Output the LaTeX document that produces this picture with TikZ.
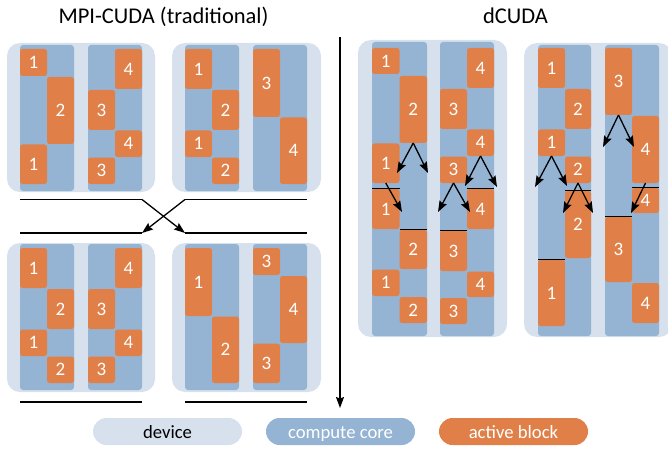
\documentclass[tikz,border=0pt]{standalone}
\usepackage{fontspec}
\setmainfont{Carlito}
\usetikzlibrary{arrows.meta}
\definecolor{devc}{RGB}{214,225,237}
\definecolor{corec}{RGB}{149,180,211}
\definecolor{blkc}{RGB}{224,128,72}
\tikzset{
  dev/.style={fill=devc, rounded corners=13pt, inner sep=0pt, outer sep=0pt},
  core/.style={fill=corec, rounded corners=3pt, inner sep=0pt, outer sep=0pt},
  blk/.style={fill=blkc, rounded corners=2.5pt, inner sep=0pt, outer sep=0pt, text=white, font=\fontsize{19}{19}\selectfont},
  sepline/.style={line width=1.3pt, draw=black},
  arr/.style={line width=1.3pt, draw=black, -{Stealth[length=11pt,width=8pt,inset=1.5pt]}},
  title/.style={anchor=base, inner sep=0pt, font=\fontsize{22.5}{26}\selectfont},
  legend/.style={rounded corners=13.5pt, minimum width=149pt, minimum height=27pt, inner sep=0pt, text height=14pt, text depth=0pt, font=\fontsize{18.7}{20}\selectfont},
}
\newcommand\rbox[7]{\node[#1, minimum width={(#5)-(#3)}, minimum height={(#6)-(#4)}] (#2) at ({((#3)+(#5))/2},{((#4)+(#6))/2}) {#7};}
\begin{document}
\begin{tikzpicture}[x=1pt,y=-1pt]
\useasboundingbox (0,0) rectangle (668,449);
% titles
\node[title] (t1) at (163.5,24) {MPI-CUDA (traditional)};
\node[title] (t2) at (515.5,24) {dCUDA};
% ---------- device A (top left)
\rbox{dev}{devA}{7}{43}{155}{192}{}
\rbox{core}{coreA1}{20}{45}{74}{191}{}
\rbox{core}{coreA2}{88}{45}{142}{191}{}
\rbox{blk}{a1}{20}{49}{47}{76}{1}
\rbox{blk}{a2}{47}{77}{74}{144}{2}
\rbox{blk}{a3}{20}{144.5}{47}{184}{1}
\rbox{blk}{a4}{115}{49}{142}{89}{4}
\rbox{blk}{a5}{88}{90}{115}{130}{3}
\rbox{blk}{a6}{115}{130.5}{142}{157}{4}
\rbox{blk}{a7}{88}{157.5}{115}{184}{3}
% ---------- device B (top right)
\rbox{dev}{devB}{172}{43}{321}{192}{}
\rbox{core}{coreB1}{185}{45}{239}{191}{}
\rbox{core}{coreB2}{253}{45}{307}{191}{}
\rbox{blk}{b1}{185}{49}{212}{89}{1}
\rbox{blk}{b2}{212}{90}{239}{130}{2}
\rbox{blk}{b3}{185}{130.5}{212}{157}{1}
\rbox{blk}{b4}{212}{157.5}{239}{184}{2}
\rbox{blk}{b5}{253}{49}{280}{117}{3}
\rbox{blk}{b6}{280}{117.5}{307}{184}{4}
% ---------- device C (bottom left)
\rbox{dev}{devC}{7}{243}{155}{392}{}
\rbox{core}{coreC1}{20}{244}{74}{390}{}
\rbox{core}{coreC2}{88}{244}{142}{390}{}
\rbox{blk}{c1}{20}{248}{47}{288}{1}
\rbox{blk}{c2}{47}{289}{74}{329}{2}
\rbox{blk}{c3}{20}{329.5}{47}{356}{1}
\rbox{blk}{c4}{47}{356.5}{74}{383}{2}
\rbox{blk}{c5}{115}{248}{142}{288}{4}
\rbox{blk}{c6}{88}{289}{115}{329}{3}
\rbox{blk}{c7}{115}{329.5}{142}{356}{4}
\rbox{blk}{c8}{88}{356.5}{115}{383}{3}
% ---------- device D (bottom right)
\rbox{dev}{devD}{172}{243}{321}{392}{}
\rbox{core}{coreD1}{185}{244}{239}{390}{}
\rbox{core}{coreD2}{253}{244}{307}{390}{}
\rbox{blk}{d1}{185}{248}{212}{316}{1}
\rbox{blk}{d2}{212}{316.5}{239}{383}{2}
\rbox{blk}{d3}{253}{248}{280}{275}{3}
\rbox{blk}{d4}{280}{276}{307}{343}{4}
\rbox{blk}{d5}{253}{343.5}{280}{383}{3}
% ---------- separator lines (left)
\coordinate (h1a) at (20,199.5);  \coordinate (h1b) at (142,199.5);
\coordinate (h2a) at (185,199.5); \coordinate (h2b) at (307,199.5);
\coordinate (h3a) at (20,233);    \coordinate (h3b) at (142,233);
\coordinate (h4a) at (185,233);   \coordinate (h4b) at (307,233);
\coordinate (h5a) at (20,402);    \coordinate (h5b) at (142,402);
\coordinate (h6a) at (185,402);   \coordinate (h6b) at (307,402);
\draw[sepline] (h1a) -- (h1b);
\draw[sepline] (h2a) -- (h2b);
\draw[sepline] (h3a) -- (h3b);
\draw[sepline] (h4a) -- (h4b);
\draw[sepline] (h5a) -- (h5b);
\draw[sepline] (h6a) -- (h6b);
\draw[arr] (h1b) -- (h4a);
\draw[arr] (h2a) -- (h3b);
% ---------- time arrow
\coordinate (vt) at (340,37);
\coordinate (vb) at (340,408);
\draw[arr] (vt) -- (vb);
% ---------- device E (dCUDA 1)
\rbox{dev}{devE}{358}{40}{507}{337}{}
\rbox{core}{coreE1}{372}{42}{427}{336}{}
\rbox{core}{coreE2}{440}{42}{494}{336}{}
\rbox{blk}{e1}{372}{48}{399.5}{74}{1}
\rbox{blk}{e2}{399.5}{76}{427}{143}{2}
\rbox{blk}{e3}{372}{143.5}{399.5}{183}{1}
\rbox{blk}{e4}{372}{189}{399.5}{229}{1}
\rbox{blk}{e5}{399.5}{230}{427}{269}{2}
\rbox{blk}{e6}{372}{269.5}{399.5}{296}{1}
\rbox{blk}{e7}{399.5}{297}{427}{323}{2}
\rbox{blk}{e8}{467}{48}{494}{88}{4}
\rbox{blk}{e9}{440}{89}{467}{129}{3}
\rbox{blk}{e10}{467}{129.5}{494}{156}{4}
\rbox{blk}{e11}{440}{156.5}{467}{183}{3}
\rbox{blk}{e12}{467}{189}{494}{229}{4}
\rbox{blk}{e13}{440}{231}{467}{271}{3}
\rbox{blk}{e14}{467}{271.5}{494}{297}{4}
\rbox{blk}{e15}{440}{298}{467}{324}{3}
\draw[sepline] ([yshift=0.8pt]e4.north west) -- ([yshift=0.8pt]e4.north east);
\draw[sepline] ([yshift=0.8pt]e5.north west) -- ([yshift=0.8pt]e5.north east);
\draw[sepline] ([yshift=0.8pt]e12.north west) -- ([yshift=0.8pt]e12.north east);
\draw[sepline] ([yshift=0.8pt]e13.north west) -- ([yshift=0.8pt]e13.north east);
\coordinate (eA1) at (397,173); \coordinate (eA2) at (428,173);
\coordinate (eB1) at (402,212);
\coordinate (eC1) at (465,186); \coordinate (eC2) at (497,187);
\coordinate (eD1) at (438,212); \coordinate (eD2) at (470,212);
\draw[arr] (e2.south) -- (eA1);
\draw[arr] (e2.south) -- (eA2);
\draw[arr] (e3.south) -- (eB1);
\draw[arr] (e10.south) -- (eC1);
\draw[arr] (e10.south) -- (eC2);
\draw[arr] (e11.south) -- (eD1);
\draw[arr] (e11.south) -- (eD2);
% ---------- device F (dCUDA 2)
\rbox{dev}{devF}{524}{43}{672}{337}{}
\rbox{core}{coreF1}{538}{45}{591}{336}{}
\rbox{core}{coreF2}{605}{45}{659}{336}{}
\rbox{blk}{f1}{538}{48}{565}{88}{1}
\rbox{blk}{f2}{565}{89}{591}{129}{2}
\rbox{blk}{f3}{538}{129.5}{565}{156}{1}
\rbox{blk}{f4}{565}{156.5}{591}{183}{2}
\rbox{blk}{f5}{565}{191}{591}{258}{2}
\rbox{blk}{f6}{538}{260}{565}{326}{1}
\rbox{blk}{f7}{605}{48}{632}{115}{3}
\rbox{blk}{f8}{632}{116}{659}{183}{4}
\rbox{blk}{f9}{632}{188}{659}{213}{4}
\rbox{blk}{f10}{605}{217}{632}{282}{3}
\rbox{blk}{f11}{632}{283}{659}{323}{4}
\draw[sepline] ([yshift=0.8pt]f5.north west) -- ([yshift=0.8pt]f5.north east);
\draw[sepline] ([yshift=0.8pt]f6.north west) -- ([yshift=0.8pt]f6.north east);
\draw[sepline] ([yshift=0.8pt]f9.north west) -- ([yshift=0.8pt]f9.north east);
\draw[sepline] ([yshift=0.8pt]f10.north west) -- ([yshift=0.8pt]f10.north east);
\coordinate (fA1) at (535,187); \coordinate (fA2) at (567,186);
\coordinate (fB1) at (563,213); \coordinate (fB2) at (593,213);
\coordinate (fC1) at (603,147); \coordinate (fC2) at (634,147);
\coordinate (fD1) at (631,213);
\draw[arr] (f3.south) -- (fA1);
\draw[arr] (f3.south) -- (fA2);
\draw[arr] (f4.south) -- (fB1);
\draw[arr] (f4.south) -- (fB2);
\draw[arr] (f7.south) -- (fC1);
\draw[arr] (f7.south) -- (fC2);
\draw[arr] (f8.south) -- (fD1);
% ---------- legend
\node[legend, fill=devc, text=black] (lg1) at (167.5,431.5) {device};
\node[legend, fill=corec, text=white] (lg2) at (340.5,431.5) {compute core};
\node[legend, fill=blkc, text=white] (lg3) at (513.5,431.5) {active block};
\end{tikzpicture}
\end{document}
